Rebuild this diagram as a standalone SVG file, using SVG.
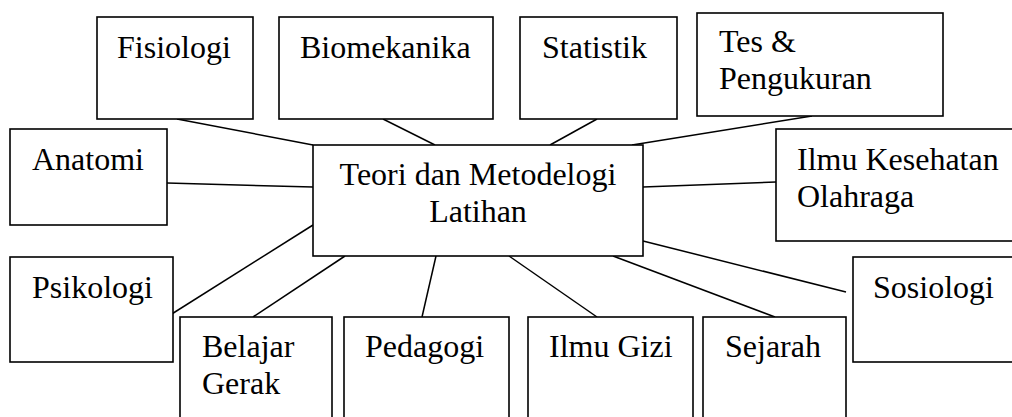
<svg xmlns="http://www.w3.org/2000/svg" width="1012" height="417" viewBox="0 0 1012 417">
<style>
rect{fill:#fff;stroke:#000;stroke-width:1.6}
line{stroke:#000;stroke-width:1.5}
text{font-family:"Times New Roman",Times,"Liberation Serif","Nimbus Roman","DejaVu Serif",serif;font-size:32px;fill:#000}
</style>
<rect x="0" y="0" width="1012" height="417" style="stroke:none"/>
<g id="connectors">
<line x1="177" y1="119" x2="313" y2="145"/>
<line x1="383" y1="119" x2="435" y2="145"/>
<line x1="597" y1="119" x2="550" y2="145"/>
<line x1="632" y1="145" x2="812" y2="116"/>
<line x1="167" y1="183" x2="313" y2="187"/>
<line x1="643" y1="187" x2="776" y2="182"/>
<line x1="167" y1="317" x2="313" y2="225"/>
<line x1="345" y1="256" x2="253" y2="317"/>
<line x1="436" y1="256" x2="422" y2="317"/>
<line x1="509" y1="256" x2="597" y2="317"/>
<line x1="613" y1="256" x2="775" y2="317"/>
<line x1="643" y1="241" x2="846" y2="292"/>
</g>
<g id="fisiologi"><rect x="97" y="17" width="156" height="102"/><text x="117" y="58">Fisiologi</text></g>
<g id="biomekanika"><rect x="279" y="17" width="214" height="102"/><text x="300" y="58">Biomekanika</text></g>
<g id="statistik"><rect x="520" y="17" width="157" height="102"/><text x="542" y="58">Statistik</text></g>
<g id="tes"><rect x="697" y="13" width="246" height="103"/><text x="719" y="52">Tes &amp;</text><text x="719" y="89">Pengukuran</text></g>
<g id="anatomi"><rect x="10" y="129" width="157" height="96"/><text x="32" y="170">Anatomi</text></g>
<g id="central"><rect x="313" y="145" width="330" height="111"/><text x="478" y="185" text-anchor="middle">Teori dan Metodelogi</text><text x="478" y="222" text-anchor="middle">Latihan</text></g>
<g id="ilmu-kesehatan"><rect x="776" y="129" width="250" height="112"/><text x="797" y="170">Ilmu Kesehatan</text><text x="797" y="207">Olahraga</text></g>
<g id="psikologi"><rect x="10" y="257" width="163" height="105"/><text x="32" y="298">Psikologi</text></g>
<g id="belajar-gerak"><rect x="180" y="317" width="152" height="120"/><text x="202" y="357">Belajar</text><text x="202" y="394">Gerak</text></g>
<g id="pedagogi"><rect x="344" y="317" width="165" height="120"/><text x="365" y="357">Pedagogi</text></g>
<g id="ilmu-gizi"><rect x="528" y="317" width="165" height="120"/><text x="549" y="357">Ilmu Gizi</text></g>
<g id="sejarah"><rect x="703" y="317" width="143" height="120"/><text x="725" y="357">Sejarah</text></g>
<g id="sosiologi"><rect x="853" y="257" width="180" height="105"/><text x="873" y="298">Sosiologi</text></g>
</svg>
